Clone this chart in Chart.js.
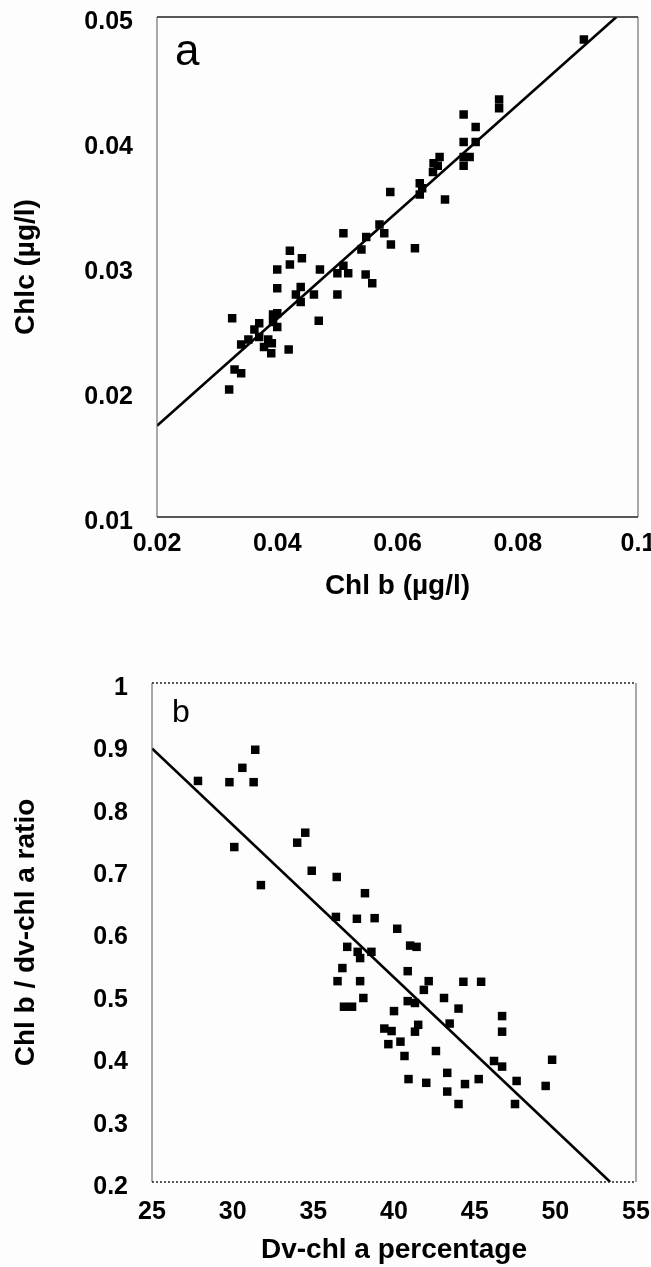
<!DOCTYPE html>
<html>
<head>
<meta charset="utf-8">
<script src="https://cdn.jsdelivr.net/npm/chart.js@4/dist/chart.umd.min.js"></script>
<style>
    body { margin: 0; background: #fdfdfd; }
    .caixa { position: relative; width: 651px; }
    #caixaA { height: 620px; }
    #caixaB { height: 647px; }
</style>
</head>
<body>
<div class="caixa" id="caixaA"><canvas id="graficoA"></canvas></div>
<div class="caixa" id="caixaB"><canvas id="graficoB"></canvas></div>
<script>
// Painel a - Chl b x Chlc
let chlB = [0.091, 0.0769, 0.0769, 0.0710, 0.0730, 0.0710, 0.0730, 0.0710, 0.0720, 0.0710,
    0.0670, 0.0660, 0.0667, 0.0659, 0.0679, 0.0588, 0.0637, 0.0637, 0.0641, 0.0570,
    0.0578, 0.0589, 0.0629, 0.0510, 0.0548, 0.0540, 0.0510, 0.0500, 0.0518, 0.0547,
    0.0558, 0.0471, 0.0421, 0.0441, 0.0421, 0.0400, 0.0400, 0.0439, 0.0431, 0.0439,
    0.0461, 0.0500, 0.0325, 0.0393, 0.0400, 0.0393, 0.0400, 0.0469, 0.0370, 0.0362,
    0.0370, 0.0352, 0.0340, 0.0385, 0.0391, 0.0378, 0.0390, 0.0419, 0.0329, 0.0340, 0.0320];
let chlC = [0.0482, 0.0434, 0.0427, 0.0422, 0.0412, 0.0400, 0.0400, 0.0388, 0.0388, 0.0381,
    0.0388, 0.0383, 0.0381, 0.0376, 0.0354, 0.0360, 0.0367, 0.0358, 0.0363, 0.0334,
    0.0327, 0.0318, 0.0315, 0.0327, 0.0324, 0.0314, 0.0301, 0.0295, 0.0295, 0.0294,
    0.0287, 0.0298, 0.0313, 0.0307, 0.0302, 0.0298, 0.0283, 0.0284, 0.0278, 0.0272,
    0.0278, 0.0278, 0.0259, 0.0262, 0.0263, 0.0256, 0.0252, 0.0257, 0.0255, 0.0250,
    0.0244, 0.0242, 0.0238, 0.0242, 0.0239, 0.0236, 0.0231, 0.0234, 0.0218, 0.0215, 0.0202];
let retaA_x = [0.02, 0.0964];
let retaA_y = [0.0173, 0.05];
let ticksXA = [0.02, 0.04, 0.06, 0.08, 0.1];
let ticksYA = [0.01, 0.02, 0.03, 0.04, 0.05];

// Painel b - Dv-chl a % x razao
let dvPct = [27.85, 29.8, 31.3, 30.6, 31.4, 30.1, 31.75, 34.0, 34.5, 34.9,
    36.45, 38.2, 36.4, 37.7, 38.8, 40.2, 41.0, 41.4, 37.1, 37.75,
    37.9, 38.6, 36.8, 40.85, 36.5, 37.9, 42.15, 41.85, 44.3, 45.4,
    38.1, 36.9, 37.4, 40.85, 41.3, 43.1, 44.0, 40.0, 46.7, 46.7,
    39.4, 39.85, 41.5, 41.3, 43.45, 39.65, 40.4, 40.65, 42.6, 46.2,
    46.7, 49.8, 43.3, 45.25, 44.4, 47.6, 40.9, 42.0, 43.3, 49.4, 44.0, 47.5];
let razao = [0.843, 0.841, 0.841, 0.864, 0.893, 0.737, 0.676, 0.744, 0.760, 0.699,
    0.689, 0.663, 0.625, 0.622, 0.623, 0.606, 0.579, 0.577, 0.577, 0.569,
    0.559, 0.569, 0.543, 0.538, 0.522, 0.522, 0.522, 0.508, 0.521, 0.521,
    0.495, 0.481, 0.481, 0.490, 0.487, 0.495, 0.478, 0.474, 0.466, 0.441,
    0.446, 0.442, 0.452, 0.441, 0.454, 0.421, 0.425, 0.402, 0.410, 0.394,
    0.385, 0.396, 0.375, 0.365, 0.357, 0.362, 0.365, 0.359, 0.345, 0.354, 0.325, 0.325];
let retaB_x = [25, 53.4];
let retaB_y = [0.895, 0.2];
let ticksXB = [25, 30, 35, 40, 45, 50, 55];
let ticksYB = [0.2, 0.3, 0.4, 0.5, 0.6, 0.7, 0.8, 0.9, 1];

function pontos(xs, ys) {
    return xs.map((x, i) => ({ x: x, y: ys[i] }));
}

// moldura em volta da area do grafico
const moldura = {
    id: 'moldura',
    afterDatasetsDraw(chart, args, opts) {
        let a = chart.chartArea;
        let ctx = chart.ctx;
        ctx.save();
        ctx.strokeStyle = '#555';
        ctx.lineWidth = 1;
        ctx.beginPath();
        ctx.moveTo(a.left, a.top); ctx.lineTo(a.left, a.bottom);
        ctx.moveTo(a.right, a.top); ctx.lineTo(a.right, a.bottom);
        ctx.stroke();
        ctx.strokeStyle = '#222';
        ctx.lineWidth = 1.5;
        if (opts.pontilhado) ctx.setLineDash([2, 2]);
        ctx.beginPath();
        ctx.moveTo(a.left, a.top); ctx.lineTo(a.right, a.top);
        ctx.moveTo(a.left, a.bottom); ctx.lineTo(a.right, a.bottom);
        ctx.stroke();
        ctx.restore();
    }
};

// letra do painel (a / b)
const letra = {
    id: 'letra',
    afterDraw(chart, args, opts) {
        let a = chart.chartArea;
        let ctx = chart.ctx;
        ctx.save();
        ctx.fillStyle = '#000';
        ctx.font = opts.tamanho + 'px "Liberation Sans", Arial, sans-serif';
        ctx.textBaseline = 'alphabetic';
        ctx.fillText(opts.texto, a.left + opts.dx, a.top + opts.dy);
        ctx.restore();
    }
};

const fonteTicks = { family: '"Liberation Sans", Arial, sans-serif', size: 25, weight: 'bold' };
const fonteTitulo = { family: '"Liberation Sans", Arial, sans-serif', size: 28, weight: 'bold' };

function eixoX(min, max, ticks, titulo, altura, pad) {
    return {
        type: 'linear', min: min, max: max,
        afterBuildTicks: s => { s.ticks = ticks.map(v => ({ value: v })); },
        afterFit: s => { s.height = altura; s.paddingLeft = 0; s.paddingRight = 0; },
        grid: { display: false, drawTicks: false },
        border: { display: false },
        ticks: { color: '#000', font: fonteTicks, padding: pad, maxRotation: 0, autoSkip: false, callback: v => v.toString() },
        title: { display: true, text: titulo, color: '#000', font: fonteTitulo, padding: { top: 0, bottom: 0 } }
    };
}

function eixoY(min, max, ticks, titulo, largura) {
    return {
        type: 'linear', min: min, max: max,
        afterBuildTicks: s => { s.ticks = ticks.map(v => ({ value: v })); },
        afterFit: s => { s.width = largura; s.paddingTop = 0; s.paddingBottom = 0; },
        grid: { display: false, drawTicks: false },
        border: { display: false },
        ticks: { color: '#000', font: fonteTicks, padding: 24, labelOffset: 5, autoSkip: false, callback: v => v.toString() },
        title: { display: true, text: titulo, color: '#000', font: fonteTitulo, padding: { top: 9, bottom: 0 } }
    };
}

function datasets(xs, ys, rx, ry) {
    return [{
        data: pontos(xs, ys),
        pointStyle: 'rect',
        pointRadius: 6,
        backgroundColor: '#000',
        borderColor: '#000',
        borderWidth: 0
    }, {
        data: pontos(rx, ry),
        showLine: true,
        pointRadius: 0,
        borderColor: '#000',
        borderWidth: 2.6
    }];
}

new Chart(document.getElementById('graficoA'), {
    type: 'scatter',
    data: { datasets: datasets(chlB, chlC, retaA_x, retaA_y) },
    options: {
        responsive: true,
        maintainAspectRatio: false,
        animation: false,
        events: [],
        layout: { padding: { top: 17, right: 13, left: 0, bottom: 17 } },
        scales: {
            x: eixoX(0.02, 0.1, ticksXA, 'Chl b (µg/l)', 86, 12),
            y: eixoY(0.01, 0.05, ticksYA, 'Chlc (µg/l)', 157)
        },
        plugins: {
            legend: { display: false },
            tooltip: { enabled: false },
            moldura: { pontilhado: false },
            letra: { texto: 'a', tamanho: 44, dx: 18, dy: 48 }
        }
    },
    plugins: [moldura, letra]
});

new Chart(document.getElementById('graficoB'), {
    type: 'scatter',
    data: { datasets: datasets(dvPct, razao, retaB_x, retaB_y) },
    options: {
        responsive: true,
        maintainAspectRatio: false,
        animation: false,
        events: [],
        layout: { padding: { top: 63, right: 15, left: 0, bottom: 0 } },
        scales: {
            x: eixoX(25, 55, ticksXB, 'Dv-chl a percentage', 85, 15),
            y: eixoY(0.2, 1, ticksYB, 'Chl b / dv-chl a ratio', 152)
        },
        plugins: {
            legend: { display: false },
            tooltip: { enabled: false },
            moldura: { pontilhado: true },
            letra: { texto: 'b', tamanho: 32, dx: 20, dy: 39 }
        }
    },
    plugins: [moldura, letra]
});
</script>
</body>
</html>
